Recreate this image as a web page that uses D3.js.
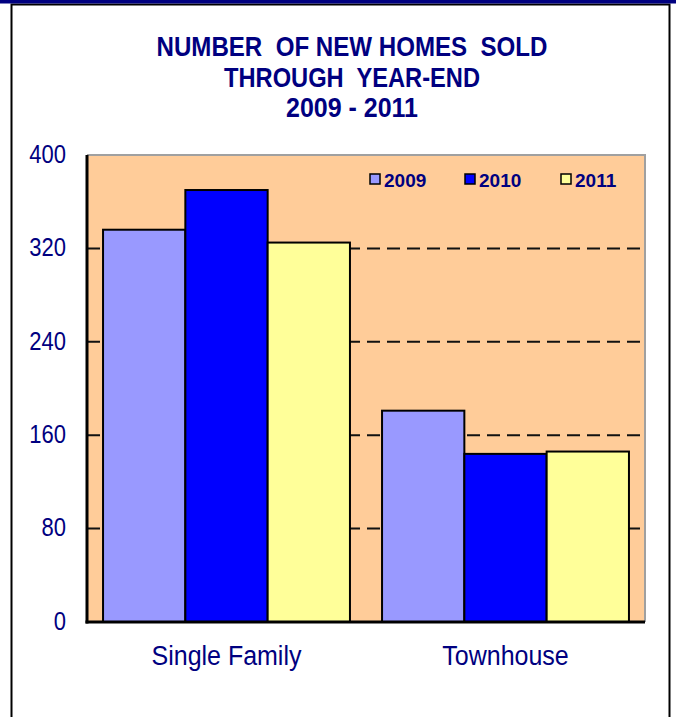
<html>
<head>
  <meta charset="utf-8">
  <title>New Homes Sold</title>
  <style>
    body {
      margin: 0;
      padding: 0;
      background: white;
      font-family: "Liberation Sans", Arial, sans-serif;
    }
  </style>
</head>
<body>
  <div id="chart"></div>

  <script src="https://cdnjs.cloudflare.com/ajax/libs/d3/7.8.5/d3.min.js"></script>
  <script>
    // data
    var categories = ["Single Family", "Townhouse"];
    var years = ["2009", "2010", "2011"];
    var values2009 = [336, 181];
    var values2010 = [370, 144];
    var values2011 = [325, 146];
    var yTicks = [0, 80, 160, 240, 320, 400];
    var titleLines = ["NUMBER  OF NEW HOMES  SOLD", "THROUGH  YEAR-END", "2009 - 2011"];

    var colors = ["#9999ff", "#0000ff", "#ffff99"];
    var navy = "#000080";

    var width = 676,
      height = 717;
    var plot = { left: 87, right: 645, top: 155, bottom: 622 };

    var svg = d3.select("#chart")
      .append("svg")
      .attr("width", width)
      .attr("height", height);

    // outer frame
    svg.append("rect")
      .attr("x", 11.5).attr("y", 4.5)
      .attr("width", 658).attr("height", 730)
      .attr("fill", "white")
      .attr("stroke", "black")
      .attr("stroke-width", 2);
    svg.append("rect")
      .attr("x", 0).attr("y", 0)
      .attr("width", width).attr("height", 3.5)
      .attr("fill", navy);

    // title (glyphs in the original are tall and narrow)
    var titleWidths = [391, 256, 132];
    svg.append("g")
      .selectAll("text")
      .data(titleLines)
      .enter()
      .append("text")
      .attr("x", 352)
      .attr("y", function(d, i) { return 56 + i * 30.5; })
      .attr("text-anchor", "middle")
      .attr("textLength", function(d, i) { return titleWidths[i]; })
      .attr("lengthAdjust", "spacingAndGlyphs")
      .style("font-size", "28.5px")
      .style("font-weight", "bold")
      .style("white-space", "pre")
      .attr("fill", navy)
      .text(function(d) { return d; });

    var series = [values2009, values2010, values2011];
    var table = categories.map(function(c, i) {
      return { category: c, values: series.map(function(s) { return s[i]; }) };
    });

    var x0 = d3.scaleBand()
      .domain(categories)
      .range([plot.left, plot.right])
      .paddingInner(0.115)
      .paddingOuter(0.0575);

    var x1 = d3.scaleBand()
      .domain(years)
      .range([0, x0.bandwidth()]);

    var y = d3.scaleLinear()
      .domain([0, 400])
      .range([plot.bottom, plot.top]);

    // plot background
    svg.append("rect")
      .attr("x", plot.left).attr("y", plot.top)
      .attr("width", plot.right - plot.left)
      .attr("height", plot.bottom - plot.top)
      .attr("fill", "#ffcc99");

    // grey frame on top and right
    svg.append("path")
      .attr("d", "M" + plot.left + "," + plot.top + "H" + plot.right + "V" + plot.bottom)
      .attr("fill", "none")
      .attr("stroke", "#a0a0a0")
      .attr("stroke-width", 2);

    // dashed gridlines
    svg.append("g")
      .selectAll("line")
      .data(yTicks.filter(function(t) { return t > 0 && t < 400; }))
      .enter()
      .append("line")
      .attr("x1", plot.left)
      .attr("x2", plot.right)
      .attr("y1", function(d) { return y(d); })
      .attr("y2", function(d) { return y(d); })
      .attr("stroke", "#111")
      .attr("stroke-width", 2)
      .attr("stroke-dasharray", "13,7");

    // bars
    var groups = svg.append("g")
      .selectAll("g")
      .data(table)
      .enter()
      .append("g")
      .attr("transform", function(d) { return "translate(" + x0(d.category) + ",0)"; });

    groups.selectAll("rect")
      .data(function(d) { return d.values; })
      .enter()
      .append("rect")
      .attr("x", function(d, i) { return x1(years[i]); })
      .attr("y", function(d) { return y(d); })
      .attr("width", x1.bandwidth())
      .attr("height", function(d) { return y(0) - y(d); })
      .attr("fill", function(d, i) { return colors[i]; })
      .attr("stroke", "black")
      .attr("stroke-width", 2);

    // axes lines
    svg.append("line")
      .attr("x1", plot.left).attr("x2", plot.left)
      .attr("y1", plot.top).attr("y2", plot.bottom + 1.5)
      .attr("stroke", "black")
      .attr("stroke-width", 3);
    svg.append("line")
      .attr("x1", plot.left - 1.5).attr("x2", plot.right)
      .attr("y1", plot.bottom).attr("y2", plot.bottom)
      .attr("stroke", "black")
      .attr("stroke-width", 3);

    // y tick labels
    var yAxis = d3.axisLeft(y)
      .tickValues(yTicks)
      .tickSize(0)
      .tickPadding(21);
    var yg = svg.append("g")
      .attr("transform", "translate(" + plot.left + ",0)")
      .call(yAxis);
    yg.select(".domain").remove();
    yg.selectAll("text")
      .attr("fill", navy)
      .attr("dy", "0.29em")
      .attr("transform", "scale(1,1.15)")
      .style("font-size", "22px")
      .style("font-family", "'Liberation Sans', Arial, sans-serif");

    // x category labels
    var xAxis = d3.axisBottom(x0)
      .tickSize(0)
      .tickPadding(22);
    var xg = svg.append("g")
      .attr("transform", "translate(0," + plot.bottom + ")")
      .call(xAxis);
    xg.select(".domain").remove();
    xg.selectAll("text")
      .attr("fill", navy)
      .attr("transform", "scale(1,1.08)")
      .style("font-size", "25px")
      .style("font-family", "'Liberation Sans', Arial, sans-serif");

    // legend
    var legendX = [370, 465, 561];
    var legend = svg.append("g")
      .selectAll("g")
      .data(years)
      .enter()
      .append("g")
      .attr("transform", function(d, i) { return "translate(" + legendX[i] + ",174)"; });
    legend.append("rect")
      .attr("width", 10).attr("height", 10)
      .attr("fill", function(d, i) { return colors[i]; })
      .attr("stroke", "black")
      .attr("stroke-width", 1.5);
    legend.append("text")
      .attr("x", 14)
      .attr("y", 12.5)
      .attr("transform", "scale(1,1)")
      .attr("fill", navy)
      .style("font-size", "19px")
      .style("font-weight", "bold")
      .text(function(d) { return d; });
  </script>
</body>
</html>
